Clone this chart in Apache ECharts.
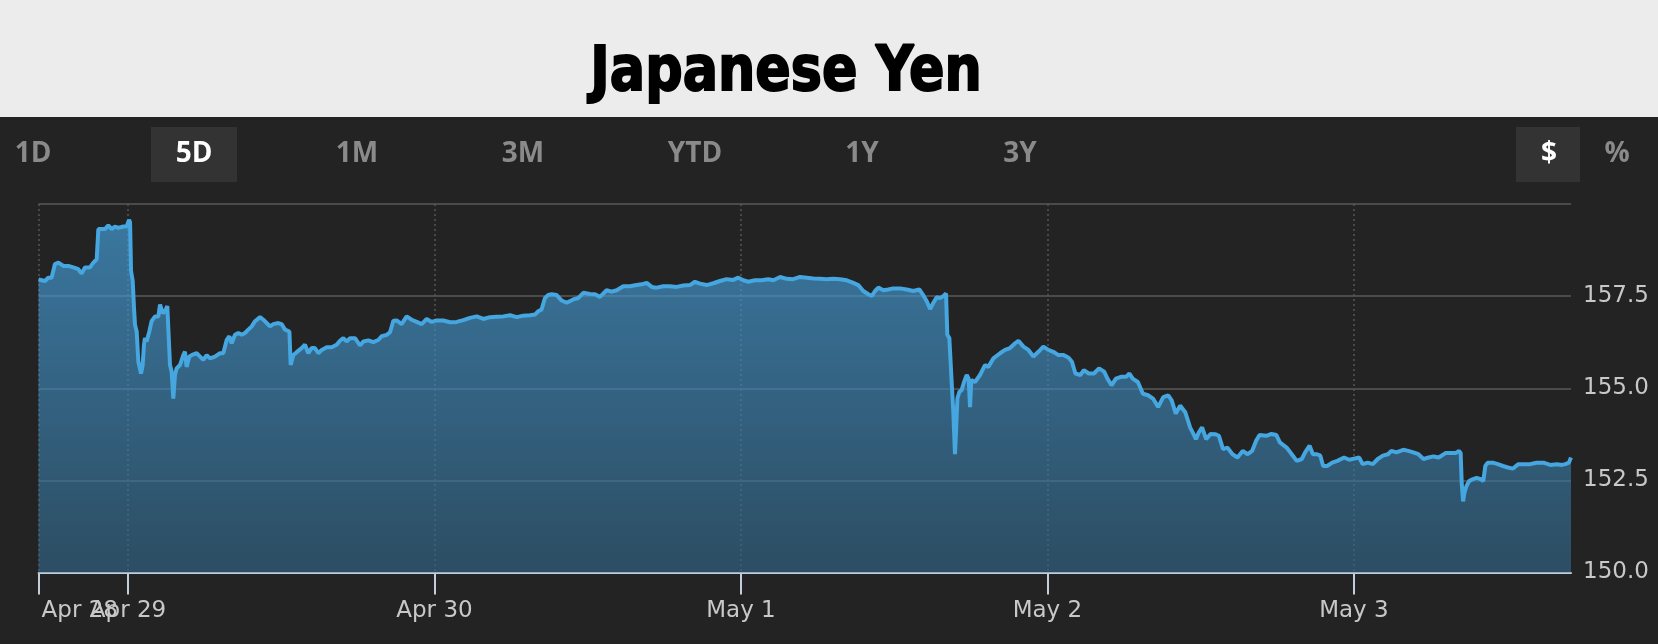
<!DOCTYPE html>
<html>
<head>
<meta charset="utf-8">
<script src="https://cdn.jsdelivr.net/npm/echarts@6/dist/echarts.min.js"></script>
<style>
html,body{margin:0;padding:0;background:#232323;}
#c{width:1658px;height:644px;}
</style>
</head>
<body>
<div id="c"></div>
<script>
const chartTitle = 'Japanese Yen';
const rangeButtons = ['1D', '5D', '1M', '3M', 'YTD', '1Y', '3Y'];
const activeRange = '5D';
const unitButtons = ['$', '%'];
const activeUnit = '$';
const tickHours = [0, 7, 31, 55, 79, 103];
const tickLabels = ['Apr 28', 'Apr 29', 'Apr 30', 'May 1', 'May 2', 'May 3'];
const yMin = 150, yMax = 160, yStep = 2.5;

// hours since the start of the 5-day window (Apr 28, 17:00)
const hours = [
0,0.50,0.76,1.02,1.28,1.55,1.94,2.33,2.72,3.11,3.37,3.63,4.02,4.29,4.55,4.68,4.94,5.20,5.46,5.72,5.98,6.24,6.64,6.90,7.08,7.16,7.24,7.37,7.47,7.55,7.68,7.81,8.02,8.15,8.25,8.33,8.46,8.67,8.85,9.12,9.38,9.51,9.72,9.90,10.08,10.21,10.29,10.42,10.55,10.68,10.81,11.07,11.33,11.46,11.59,11.80,12.12,12.38,12.64,12.90,13.16,13.42,13.81,14.20,14.46,14.73,14.94,15.12,15.38,15.64,15.90,16.16,16.42,16.69,16.95,17.34,17.60,17.86,18.12,18.38,18.77,19.03,19.30,19.64,19.74,19.84,19.95,20.21,20.60,20.86,21.12,21.38,21.64,21.91,22.17,22.56,22.95,23.34,23.60,23.86,24.12,24.39,24.78,25.17,25.43,25.82,26.21,26.60,26.86,27.26,27.52,27.78,28.04,28.43,28.82,29.22,29.61,30.00,30.39,30.78,31.17,31.69,32.22,32.74,33.26,33.78,34.31,34.83,35.35,35.87,36.39,36.92,37.44,37.96,38.48,38.87,39.13,39.39,39.65,39.91,
40.18,40.57,40.96,41.35,41.87,42.27,42.66,43.18,43.57,43.96,44.48,44.87,45.27,45.79,46.31,46.83,47.23,47.62,48.01,48.40,48.92,49.44,49.97,50.49,51.01,51.40,51.79,52.32,52.84,53.36,53.88,54.40,54.79,55.18,55.58,56.10,56.62,57.14,57.54,58.07,58.58,59.10,59.63,60.15,60.67,61.19,61.71,62.23,62.76,63.28,63.80,64.19,64.58,64.98,65.24,65.50,65.76,66.15,66.54,66.93,67.46,67.98,68.50,68.97,69.23,69.55,69.81,70.07,70.33,70.59,70.85,71.06,71.16,71.32,71.50,71.63,71.76,71.84,71.95,72.10,72.28,72.47,72.68,72.83,72.94,73.04,73.33,73.72,74.11,74.37,74.77,75.29,75.68,76.07,76.47,76.73,77.12,77.51,77.90,78.29,78.68,79.07,
79.46,79.86,80.26,80.66,80.92,81.19,81.58,81.85,82.24,82.64,83.04,83.44,83.70,84.02,84.36,84.76,85.16,85.42,85.68,86.08,86.48,86.88,87.27,87.67,88.07,88.46,88.73,89.05,89.39,89.79,90.18,90.45,90.63,90.85,91.11,91.43,91.77,92.17,92.43,92.75,93.10,93.49,93.89,94.29,94.68,95.03,95.35,95.61,96.14,96.54,96.93,97.20,97.73,98.13,98.52,98.92,99.18,99.53,99.79,100.11,100.37,100.59,100.90,101.30,101.70,102.23,102.63,103.02,103.42,103.68,104.08,104.48,104.87,105.27,105.67,105.93,106.33,106.86,107.26,107.65,108.05,108.45,108.85,109.24,109.64,110.17,110.57,110.96,111.23,111.36,111.44,111.55,111.65,111.81,112.02,112.29,112.60,112.95,113.13,113.29,113.48,113.87,114.27,114.67,115.06,115.46,115.86,116.26,116.79,117.31,117.84,118.37,118.90,119.30,119.56,119.83,120
];

// USD/JPY rate at each of those times
const rates = [
157.95,157.91,158.00,158.00,158.37,158.41,158.32,158.32,158.28,158.23,158.11,158.28,158.28,158.41,158.50,159.32,159.32,159.32,159.42,159.32,159.39,159.35,159.39,159.39,159.57,159.51,158.18,157.91,157.18,156.72,156.54,155.72,155.40,155.63,156.18,156.36,156.27,156.54,156.82,156.95,156.95,157.27,157.04,157.09,157.23,157.18,155.63,155.45,154.72,155.36,155.54,155.63,155.90,155.99,155.58,155.86,155.92,155.95,155.86,155.77,155.90,155.81,155.86,155.95,155.95,156.31,156.41,156.22,156.45,156.50,156.45,156.50,156.59,156.68,156.82,156.93,156.86,156.77,156.68,156.74,156.77,156.74,156.59,156.54,155.63,155.58,155.90,155.98,156.09,156.18,155.95,156.09,156.09,155.95,156.04,156.11,156.11,156.18,156.29,156.36,156.27,156.36,156.36,156.16,156.27,156.30,156.25,156.31,156.41,156.45,156.52,156.83,156.84,156.74,156.95,156.86,156.80,156.74,156.88,156.80,156.84,156.84,156.79,156.80,156.85,156.91,156.95,156.88,156.93,156.94,156.95,156.98,156.93,156.97,156.98,157.00,157.09,157.14,157.45,157.53,
157.55,157.53,157.38,157.32,157.41,157.45,157.59,157.56,157.55,157.48,157.66,157.62,157.66,157.77,157.77,157.80,157.82,157.86,157.75,157.73,157.77,157.77,157.75,157.79,157.80,157.89,157.84,157.80,157.85,157.91,157.96,157.94,158.00,157.93,157.89,157.93,157.93,157.96,157.93,158.02,157.97,157.96,158.02,158.00,157.98,157.97,157.96,157.97,157.96,157.93,157.86,157.80,157.64,157.55,157.50,157.64,157.73,157.66,157.68,157.71,157.71,157.68,157.64,157.68,157.55,157.36,157.15,157.32,157.47,157.45,157.50,157.57,156.45,156.36,155.17,154.35,153.21,153.80,154.72,154.90,154.95,155.17,155.36,155.26,154.49,155.22,155.17,155.36,155.63,155.58,155.81,155.95,156.04,156.09,156.22,156.29,156.13,156.04,155.86,155.99,156.13,156.04,
155.99,155.90,155.90,155.83,155.72,155.40,155.36,155.49,155.40,155.40,155.54,155.45,155.26,155.08,155.26,155.31,155.31,155.40,155.26,155.17,154.85,154.81,154.72,154.49,154.76,154.81,154.67,154.31,154.53,154.35,153.93,153.75,153.62,153.80,153.94,153.62,153.76,153.75,153.71,153.35,153.39,153.21,153.12,153.30,153.21,153.30,153.58,153.73,153.71,153.76,153.73,153.53,153.39,153.21,153.03,153.08,153.26,153.44,153.21,153.21,153.17,152.89,152.89,152.98,153.03,153.12,153.06,153.09,153.12,152.94,152.98,152.94,153.08,153.17,153.21,153.30,153.26,153.33,153.30,153.26,153.21,153.08,153.12,153.15,153.12,153.24,153.24,153.24,153.30,153.24,152.44,151.93,152.16,152.34,152.48,152.53,152.57,152.53,152.48,152.89,152.98,152.98,152.94,152.89,152.85,152.82,152.94,152.94,152.94,152.98,152.98,152.92,152.94,152.92,152.94,152.98,153.12
];

const seriesData = hours.map((h, i) => [h, rates[i]]);

const rangeX = [33, 194, 357, 523, 695, 862, 1020];
const unitX = [1549, 1617];
const btnFont = 'bold 28px "Open Sans", "DejaVu Sans", sans-serif';

const graphics = [
  { type: 'rect', left: 0, top: 0, z: -10, shape: { width: 1658, height: 117 }, style: { fill: '#ececec' } },
  { type: 'text', x: 786, y: 74, scaleX: 0.845, style: { text: chartTitle, fill: '#000', stroke: '#000', lineWidth: 2, font: 'bold 62px "DejaVu Sans", sans-serif', textAlign: 'center', textVerticalAlign: 'middle' } }
];
rangeButtons.forEach((b, i) => {
  const active = b === activeRange;
  if (active) graphics.push({ type: 'rect', shape: { x: rangeX[i] - 43, y: 127, width: 86, height: 55 }, style: { fill: '#333333' } });
  graphics.push({ type: 'text', x: rangeX[i], y: 154, style: { text: b, fill: active ? '#ffffff' : '#8a8a8a', font: btnFont, textAlign: 'center', textVerticalAlign: 'middle' } });
});
unitButtons.forEach((b, i) => {
  const active = b === activeUnit;
  if (active) graphics.push({ type: 'rect', shape: { x: unitX[i] - 33, y: 127, width: 64, height: 55 }, style: { fill: '#333333' } });
  graphics.push({ type: 'text', x: unitX[i], y: 154, style: { text: b, fill: active ? '#ffffff' : '#8a8a8a', font: btnFont, textAlign: 'center', textVerticalAlign: 'middle' } });
});

const labelStyle = { color: '#c8c8c8', fontSize: 23, fontFamily: '"DejaVu Sans", sans-serif', margin: 27 };
const gridBox = { left: 38.6, right: 87, top: 204, bottom: 71.5, containLabel: false };

const chart = echarts.init(document.getElementById('c'), null, { renderer: 'canvas' });
chart.setOption({
  backgroundColor: '#232323',
  animation: false,
  graphic: graphics,
  grid: [Object.assign({}, gridBox), Object.assign({}, gridBox)],
  xAxis: [{
    type: 'value', min: 0, max: 120, gridIndex: 0,
    axisLine: { show: true, lineStyle: { color: '#c3ceda', width: 2 } },
    axisTick: { show: true, length: 22, customValues: tickHours, lineStyle: { color: '#c3ceda', width: 2 } },
    axisLabel: Object.assign({
      customValues: tickHours.slice(1),
      formatter: v => tickLabels[tickHours.indexOf(v)] || '',
      showMinLabel: true, showMaxLabel: true, hideOverlap: false
    }, labelStyle),
    splitLine: { show: true, lineStyle: { color: '#575757', width: 1.5, type: [2, 3] } }
  }, {
    // carries only the left-aligned first date label
    type: 'value', min: 0, max: 120, gridIndex: 1,
    axisLine: { show: false }, axisTick: { show: false }, splitLine: { show: false },
    axisLabel: Object.assign({
      customValues: tickHours.slice(0, 1),
      formatter: v => tickLabels[tickHours.indexOf(v)] || '',
      align: 'left', showMinLabel: true, padding: [0, 0, 0, 3]
    }, labelStyle)
  }],
  yAxis: [{
    type: 'value', position: 'right', min: yMin, max: yMax, interval: yStep, gridIndex: 0,
    axisLine: { show: false }, axisTick: { show: false },
    axisLabel: {
      color: '#c8c8c8', fontSize: 23, fontFamily: '"DejaVu Sans", sans-serif', margin: 12,
      showMaxLabel: false, formatter: v => v.toFixed(1)
    },
    splitLine: { show: true, lineStyle: { color: '#4b4b4b', width: 2 } }
  }, {
    type: 'value', min: yMin, max: yMax, gridIndex: 1, show: false
  }],
  series: [{
    type: 'line',
    xAxisIndex: 0, yAxisIndex: 0,
    data: seriesData,
    showSymbol: false,
    lineStyle: { color: '#45a6e0', width: 4 },
    areaStyle: {
      color: new echarts.graphic.LinearGradient(0, 0, 0, 1, [
        { offset: 0, color: 'rgba(72,168,232,0.9)' },
        { offset: 1, color: 'rgba(50,102,136,0.9)' }
      ])
    }
  }]
});
</script>
</body>
</html>
